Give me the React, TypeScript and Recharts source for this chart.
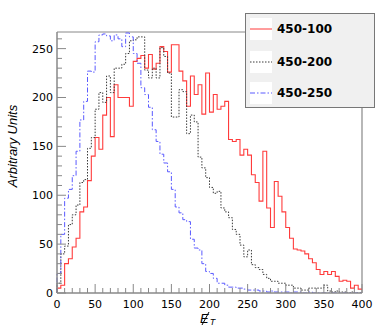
import React from 'react';
import { LineChart, Line, XAxis, YAxis, ReferenceLine } from 'recharts';

// Bin contents (5-unit bins from 0 to 400)
const series450_100 = [5, 8, 30, 35, 47, 56, 83, 88, 115, 140,
  159, 147, 182, 200, 160, 213, 200, 200, 200, 191,
  237, 240, 243, 230, 244, 229, 235, 252, 247, 226,
  254, 254, 227, 217, 191, 222, 203, 213, 183, 225,
  185, 203, 188, 191, 196, 157, 155, 157, 141, 147,
  141, 121, 113, 94, 145, 87, 67, 114, 99, 83,
  67, 56, 45, 44, 43, 40, 35, 31, 24, 19,
  22, 19, 22, 17, 12, 13, 12, 5, 8, 4];

const series450_200 = [10, 40, 48, 70, 80, 90, 113, 116, 148, 159,
  188, 205, 195, 222, 205, 230, 230, 234, 245, 258,
  259, 262, 262, 228, 220, 230, 220, 251, 242, 225,
  180, 180, 208, 206, 163, 182, 175, 139, 128, 118,
  108, 102, 104, 87, 83, 77, 65, 60, 49, 37,
  44, 29, 26, 24, 19, 15, 12, 12, 10, 10,
  8, 8, 5, 5, 3, 3, 5, 5, 5, 5,
  8, 2, 1, 2, 1, 1, 0, 1, 0, 0];

const series450_250 = [20, 60, 97, 106, 120, 145, 177, 196, 227, 226,
  257, 264, 265, 263, 258, 264, 260, 252, 266, 262,
  245, 235, 210, 203, 190, 167, 155, 142, 133, 124,
  106, 88, 82, 75, 73, 55, 46, 44, 30, 22,
  20, 15, 10, 10, 8, 6, 6, 5, 5, 4,
  3, 3, 3, 2, 2, 1, 2, 1, 1, 1,
  1, 0, 1, 1, 0, 0, 1, 0, 0, 0,
  0, 0, 0, 0, 0, 0, 0, 0, 0, 0];

const seriesNames = ['450-100', '450-200', '450-250'];
const binWidth = 5;
const xMax = 400;
const yMax = 267;
const xTicks = [0, 10, 20, 30, 40, 50, 60, 70, 80, 90, 100, 110, 120, 130, 140, 150, 160, 170, 180, 190, 200,
  210, 220, 230, 240, 250, 260, 270, 280, 290, 300, 310, 320, 330, 340, 350, 360, 370, 380, 390, 400];
const yTicks = [0, 10, 20, 30, 40, 50, 60, 70, 80, 90, 100, 110, 120, 130, 140, 150, 160, 170, 180, 190, 200,
  210, 220, 230, 240, 250, 260];

const data = [
  { x: 0, a: 0, b: 0, c: 0 },
  ...series450_100.map((v, i) => ({ x: i * binWidth, a: v, b: series450_200[i], c: series450_250[i] })),
  {
    x: xMax,
    a: series450_100[series450_100.length - 1],
    b: series450_200[series450_200.length - 1],
    c: series450_250[series450_250.length - 1],
  },
];

const W = 382;
const H = 327;
const MARGIN = { top: 32, right: 20, bottom: 4, left: 9 };
const Y_AXIS_W = 48;
const X_AXIS_H = 30;
const PL = MARGIN.left + Y_AXIS_W;
const PB = H - MARGIN.bottom - X_AXIS_H;
const AXIS_COLOR = '#888888';
const FONT = '"DejaVu Sans", Arial, sans-serif';
const TITLE_FONT = '"Liberation Sans", Arial, sans-serif';

const COLORS = ['#ff3b3b', '#3a3a3a', '#5a5aff'];
const DASHES = [undefined, '1.5 1.5', '5 2 1.5 2'];

const YTick = (props: any) => {
  const { y, payload } = props;
  const v = payload.value;
  const major = v % 50 === 0;
  return (
    <g>
      <line x1={PL} x2={PL + (major ? 9 : 5)} y1={y} y2={y} stroke={AXIS_COLOR} strokeWidth={1} />
      {major && (
        <text x={PL - 4} y={y} dy={4} textAnchor="end" fontFamily={FONT} fontSize={11} fill="#000">
          {v}
        </text>
      )}
    </g>
  );
};

const XTick = (props: any) => {
  const { x, payload } = props;
  const v = payload.value;
  const major = v % 50 === 0;
  return (
    <g>
      <line x1={x} x2={x} y1={PB} y2={PB - (major ? 9 : 5)} stroke={AXIS_COLOR} strokeWidth={1} />
      {major && (
        <text x={x} y={PB + 14.5} textAnchor="middle" fontFamily={FONT} fontSize={11} fill="#000">
          {v}
        </text>
      )}
    </g>
  );
};

const LegendSample = ({ i }: { i: number }) => (
  <svg width={22} height={22} style={{ display: 'block', background: '#fff' }}>
    <line x1={0} x2={22} y1={11} y2={11} stroke={COLORS[i]} strokeWidth={1} strokeDasharray={DASHES[i]} />
  </svg>
);

export default function App() {
  const rowTops = [4, 37, 68];
  return (
    <div style={{ position: 'absolute', left: 0, top: 0, width: W, height: H, background: '#fff' }}>
      <LineChart width={W} height={H} data={data} margin={MARGIN}>
        <XAxis
          dataKey="x"
          type="number"
          domain={[0, xMax]}
          ticks={xTicks}
          interval={0}
          height={X_AXIS_H}
          tickLine={false}
          axisLine={{ stroke: AXIS_COLOR, strokeWidth: 1.5 }}
          tick={<XTick />}
        />
        <YAxis
          type="number"
          domain={[0, yMax]}
          ticks={yTicks}
          interval={0}
          width={Y_AXIS_W}
          tickLine={false}
          axisLine={{ stroke: AXIS_COLOR, strokeWidth: 1.5 }}
          tick={<YTick />}
          allowDataOverflow
        />
        <ReferenceLine y={yMax} stroke={AXIS_COLOR} strokeWidth={1} />
        <ReferenceLine x={xMax} stroke={AXIS_COLOR} strokeWidth={1.2} />
        <Line type="stepAfter" dataKey="a" stroke={COLORS[0]} strokeWidth={1.1} dot={false} isAnimationActive={false} />
        <Line type="stepAfter" dataKey="b" stroke={COLORS[1]} strokeWidth={1} strokeDasharray={DASHES[1]} dot={false} isAnimationActive={false} />
        <Line type="stepAfter" dataKey="c" stroke={COLORS[2]} strokeWidth={1} strokeDasharray={DASHES[2]} dot={false} isAnimationActive={false} />
      </LineChart>
      <svg width={W} height={H} style={{ position: 'absolute', left: 0, top: 0, pointerEvents: 'none' }}>
        <text
          transform="translate(17,146) rotate(-90)"
          textAnchor="middle"
          fontFamily={TITLE_FONT}
          fontStyle="italic"
          fontSize={13}
          fill="#000"
        >
          Arbitrary Units
        </text>
        <text x={200} y={323} fontFamily={TITLE_FONT} fontStyle="italic" fontSize={13} fill="#000">
          E<tspan dx={1} dy={2} fontSize={9}>T</tspan>
        </text>
        <line x1={202} y1={325} x2={209} y2={312} stroke="#000" strokeWidth={1} />
      </svg>
      <div
        style={{
          position: 'absolute',
          left: 245,
          top: 13,
          width: 130,
          height: 95,
          boxSizing: 'border-box',
          background: '#f0f0f0',
          border: '1px solid #777',
        }}
      >
        {seriesNames.map((name, i) => (
          <div key={name} style={{ position: 'absolute', left: 4, top: rowTops[i], height: 22, display: 'flex', alignItems: 'center' }}>
            <LegendSample i={i} />
            <span style={{ marginLeft: 5, fontFamily: FONT, fontWeight: 'bold', fontSize: 12, color: '#000' }}>{name}</span>
          </div>
        ))}
      </div>
    </div>
  );
}
